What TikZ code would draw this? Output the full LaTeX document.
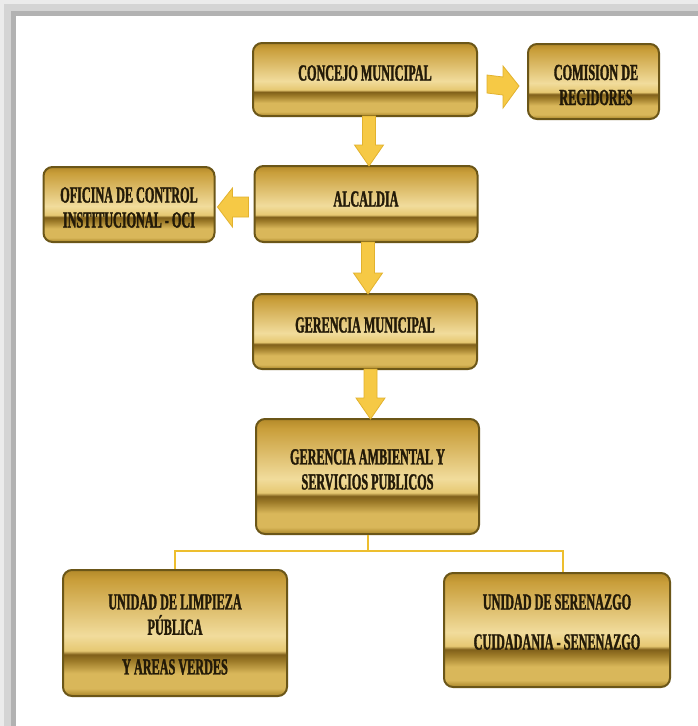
\documentclass[tikz,border=0pt]{standalone}
\usepackage{fontspec}
\setmainfont{Liberation Serif}[FakeStretch=0.53,FakeBold=1.4]
\usetikzlibrary{calc}
\definecolor{gA}{HTML}{A98528}
\definecolor{gB}{HTML}{D9B75A}
\definecolor{gC}{HTML}{9C7A28}
\definecolor{gD}{HTML}{80601A}
\definecolor{gE}{HTML}{E6C872}
\definecolor{gF}{HTML}{F1DC9C}
\definecolor{gG}{HTML}{C99E3A}
\definecolor{gH}{HTML}{B48A2A}
\definecolor{boxedge}{HTML}{6B5618}
\definecolor{arrfill}{HTML}{F6C945}
\definecolor{arredge}{HTML}{E2B22E}
\definecolor{connc}{HTML}{EDBE2E}
\definecolor{txt}{HTML}{231A08}
\pgfdeclareverticalshading{goldbox}{100bp}{color(0bp)=(gA); color(25bp)=(gA); color(28bp)=(gB); color(34bp)=(gB); color(39bp)=(gC); color(41.5bp)=(gD); color(43bp)=(gE); color(49bp)=(gF); color(71bp)=(gG); color(75bp)=(gH); color(100bp)=(gH)}
\tikzset{
  box/.style={draw=boxedge, line width=2pt, rounded corners=9pt, shading=goldbox, inner sep=0pt},
  lbl/.style={font=\bfseries\fontsize{23}{25}\selectfont, text=txt, align=center, inner sep=0pt},
  blockarrow/.style={fill=arrfill, draw=arredge, line width=0.8pt, line join=miter},
  conn/.style={draw=connc, line width=2pt}
}
\newcommand\varrowdown[2]{%
  \path[blockarrow] ($(#1.south -| #2.north)+(-3.5,-1)$) -- ($(#2.north)+(-3.5,-20)$) -- ($(#2.north)+(-11.5,-20)$) -- ($(#2.north)+(3,1)$) -- ($(#2.north)+(17.5,-20)$) -- ($(#2.north)+(9.5,-20)$) -- ($(#1.south -| #2.north)+(9.5,-1)$) -- cycle;}
\begin{document}
\begin{tikzpicture}[x=1pt,y=-1pt]
\useasboundingbox (0,0) rectangle (698,726);
\fill[white] (0,0) rectangle (698,726);
% frame
\fill[black!8] (0,0) rectangle (698,16);
\fill[black!8] (0,0) rectangle (16,726);
\fill[black!17] (4,4) rectangle (698,16);
\fill[black!17] (4,4) rectangle (16,726);
\fill[black!30] (11,11) rectangle (698,16);
\fill[black!30] (11,11) rectangle (16,726);
% boxes
\node[box, minimum width=224, minimum height=73] (concejo) at (365,79.5) {};
\node[box, minimum width=131, minimum height=75] (comision) at (593.5,81.5) {};
\node[box, minimum width=223, minimum height=76] (alcaldia) at (366,204) {};
\node[box, minimum width=171, minimum height=75] (oficina) at (129,204.5) {};
\node[box, minimum width=224, minimum height=75] (gmun) at (365,331.5) {};
\node[box, minimum width=223, minimum height=115] (gamb) at (367.5,476.5) {};
\node[box, minimum width=224, minimum height=126] (limp) at (175,633) {};
\node[box, minimum width=226, minimum height=114] (seren) at (557,630) {};
% texts
\node[lbl] (concejo-t) at (365,73) {CONCEJO MUNICIPAL};
\node[lbl] (comision-t) at (596,85) {COMISION DE\\REGIDORES};
\node[lbl] (alcaldia-t) at (366,199) {ALCALDIA};
\node[lbl] (oficina-t) at (129,207.5) {OFICINA DE CONTROL\\INSTITUCIONAL - OCI};
\node[lbl] (gmun-t) at (365,325) {GERENCIA MUNICIPAL};
\node[lbl] (gamb-t) at (367.5,469.5) {GERENCIA AMBIENTAL Y\\SERVICIOS PUBLICOS};
\node[lbl] (limp-t1) at (175,602) {UNIDAD DE LIMPIEZA};
\node[lbl] (limp-t2) at (175,625) {PÚBLICA};
\node[lbl] (limp-t3) at (175,667) {Y AREAS VERDES};
\node[lbl] (seren-t1) at (557,602) {UNIDAD DE SERENAZGO};
\node[lbl] (seren-t2) at (557,642) {CUIDADANIA - SENENAZGO};
% vertical arrows
\varrowdown{concejo}{alcaldia}
\varrowdown{alcaldia}{gmun}
\varrowdown{gmun}{gamb}
% right arrow concejo -> comision
\path[blockarrow] ($(concejo.east)+(9,-4.5)$) -- ($(comision.west)+(-24,-4.5)$) -- ($(comision.west)+(-24,-15.5)$) -- ($(comision.west)+(-8,4.5)$) -- ($(comision.west)+(-24,26.5)$) -- ($(comision.west)+(-24,13.5)$) -- ($(concejo.east)+(9,13.5)$) -- cycle;
% left arrow alcaldia -> oficina
\path[blockarrow] ($(alcaldia.west)+(-5,-7)$) -- ($(oficina.east)+(17,-7.5)$) -- ($(oficina.east)+(17,-16.5)$) -- ($(oficina.east)+(2,2.5)$) -- ($(oficina.east)+(17,22.5)$) -- ($(oficina.east)+(17,12.5)$) -- ($(alcaldia.west)+(-5,13)$) -- cycle;
% connectors
\coordinate (junc) at ($(gamb.south)+(0,16)$);
\coordinate (serenin) at ($(seren.north)+(6,0)$);
\draw[conn] (gamb.south) -- (junc);
\draw[conn] (junc) -| (limp.north);
\draw[conn] (junc) -| (serenin);
\end{tikzpicture}
\end{document}
